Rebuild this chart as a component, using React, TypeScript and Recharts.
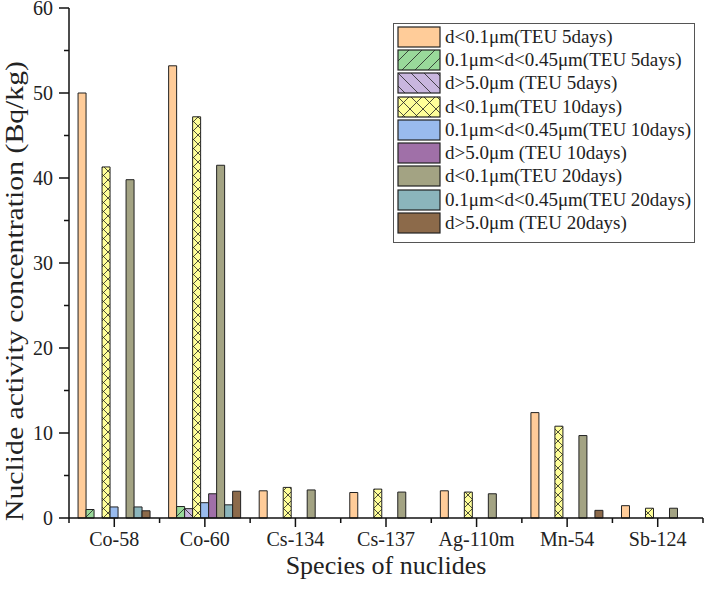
import React from 'react';
import { BarChart, Bar, XAxis, YAxis, Legend } from 'recharts';

const categories = ['Co-58', 'Co-60', 'Cs-134', 'Cs-137', 'Ag-110m', 'Mn-54', 'Sb-124'];

const small5 = [50.0, 53.2, 3.2, 3.0, 3.2, 12.4, 1.45];
const mid5 = [1.0, 1.35, 0, 0, 0, 0, 0];
const large5 = [0, 1.1, 0, 0, 0, 0, 0];
const small10 = [41.3, 47.2, 3.6, 3.4, 3.05, 10.8, 1.15];
const mid10 = [1.3, 1.8, 0, 0, 0, 0, 0];
const large10 = [0, 2.85, 0, 0, 0, 0, 0];
const small20 = [39.8, 41.5, 3.3, 3.05, 2.85, 9.7, 1.15];
const mid20 = [1.3, 1.55, 0, 0, 0, 0, 0];
const large20 = [0.85, 3.15, 0, 0, 0, 0.9, 0];

const seriesNames = [
  'd<0.1μm(TEU 5days)',
  '0.1μm<d<0.45μm(TEU 5days)',
  'd>5.0μm (TEU 5days)',
  'd<0.1μm(TEU 10days)',
  '0.1μm<d<0.45μm(TEU 10days)',
  'd>5.0μm (TEU 10days)',
  'd<0.1μm(TEU 20days)',
  '0.1μm<d<0.45μm(TEU 20days)',
  'd>5.0μm (TEU 20days)',
];
const seriesValues = [small5, mid5, large5, small10, mid10, large10, small20, mid20, large20];

const yTicks = [0, 5, 10, 15, 20, 25, 30, 35, 40, 45, 50, 55, 60];

const colors = ['#FFCC99', '#99D99A', '#C9B6DE', '#FFFF99', '#99BBEE', '#A070A8', '#A3A383', '#8BB5BC', '#8C6A4A'];
const hatch = ['', 'fwd', 'back', 'cross', '', '', '', '', ''];

const data = categories.map((c, i) => {
  const row: any = { name: c };
  seriesValues.forEach((vals, k) => {
    row['s' + k] = vals[i];
  });
  return row;
});

const FONT = '"Liberation Serif", "Times New Roman", serif';

function patternDefs(prefix: string, size: number) {
  return hatch.map((h, k) => {
    if (!h) return null;
    const s = size;
    return (
      <pattern key={prefix + k} id={prefix + k} patternUnits="userSpaceOnUse" width={s} height={s}>
        <rect x={0} y={0} width={s} height={s} fill={colors[k]} />
        {(h === 'fwd' || h === 'cross') && (
          <g stroke="#222" strokeWidth={0.8}>
            <line x1={0} y1={s} x2={s} y2={0} />
            <line x1={-s / 2} y1={s / 2} x2={s / 2} y2={-s / 2} />
            <line x1={s / 2} y1={s * 1.5} x2={s * 1.5} y2={s / 2} />
          </g>
        )}
        {(h === 'back' || h === 'cross') && (
          <g stroke="#222" strokeWidth={0.8}>
            <line x1={0} y1={0} x2={s} y2={s} />
            <line x1={-s / 2} y1={s / 2} x2={s / 2} y2={s * 1.5} />
            <line x1={s / 2} y1={-s / 2} x2={s * 1.5} y2={s / 2} />
          </g>
        )}
      </pattern>
    );
  });
}

function fillFor(prefix: string, k: number) {
  return hatch[k] ? `url(#${prefix}${k})` : colors[k];
}

const YTick = (props: any) => {
  const { x, y, payload } = props;
  const major = payload.value % 10 === 0;
  return (
    <g>
      <line x1={x - (major ? 10 : 5)} y1={y} x2={x} y2={y} stroke="#111" strokeWidth={1.5} />
      {major && (
        <text x={x - 16} y={y + 7} textAnchor="end" fontFamily={FONT} fontSize={20} fill="#222">
          {payload.value}
        </text>
      )}
    </g>
  );
};

const XTick = (props: any) => {
  const { x, y, payload, index, width } = props;
  const half = payload.offset ? payload.offset : width / categories.length / 2;
  const last = index === categories.length - 1;
  return (
    <g>
      <line x1={x} y1={y} x2={x} y2={y + 9} stroke="#111" strokeWidth={1.5} />
      <line x1={x - half} y1={y} x2={x - half} y2={y + 5} stroke="#111" strokeWidth={1.5} />
      {last && <line x1={x + half} y1={y} x2={x + half} y2={y + 5} stroke="#111" strokeWidth={1.5} />}
      <text x={x} y={y + 28} textAnchor="middle" fontFamily={FONT} fontSize={20} fill="#222">
        {payload.value}
      </text>
    </g>
  );
};

const XTitle = () => (
  <text x={386} y={574} textAnchor="middle" fontFamily={FONT} fontSize={26} fill="#222">
    Species of nuclides
  </text>
);

const YTitle = () => (
  <text
    x={14}
    y={291}
    transform="rotate(-90 14 291)"
    textAnchor="middle"
    dominantBaseline="central"
    fontFamily={FONT}
    fontSize={26}
    fill="#222"
    textLength={460}
    lengthAdjust="spacingAndGlyphs"
  >
    Nuclide activity concentration (Bq/kg)
  </text>
);

const LegendBox = () => (
  <div
    style={{
      border: '1px solid #555',
      background: '#fff',
      width: 300,
      height: 217,
      fontFamily: FONT,
      fontSize: 19,
      color: '#222',
      paddingTop: 1,
      boxSizing: 'content-box',
    }}
  >
    {seriesNames.map((n, k) => (
      <div key={k} style={{ display: 'flex', alignItems: 'center', height: 23.3, whiteSpace: 'nowrap' }}>
        <svg width={46} height={22} style={{ marginLeft: 3, flex: 'none' }}>
          <rect x={1} y={1} width={42} height={20} fill={fillFor('lg', k)} stroke="#222" strokeWidth={1.2} />
        </svg>
        <span style={{ marginLeft: 2, lineHeight: '22px' }}>{n}</span>
      </div>
    ))}
  </div>
);

export default function App() {
  return (
    <div style={{ position: 'absolute', left: 0, top: 0, width: 706, height: 600, background: '#fff' }}>
      <BarChart
        width={706}
        height={600}
        data={data}
        margin={{ top: 8, right: 3, bottom: 0, left: 0 }}
        barCategoryGap="10%"
        barGap={0}
      >
        <defs>
          {patternDefs('bp', 9)}
          {patternDefs('lg', 13)}
        </defs>
        <XAxis
          dataKey="name"
          height={82}
          axisLine={{ stroke: '#111', strokeWidth: 1.5 }}
          tickLine={false}
          tickSize={0}
          tickMargin={0}
          interval={0}
          tick={<XTick />}
          label={() => <XTitle />}
        />
        <YAxis
          width={69}
          domain={[0, 60]}
          ticks={yTicks}
          interval={0}
          axisLine={{ stroke: '#111', strokeWidth: 1.5 }}
          tickLine={false}
          tickSize={0}
          tickMargin={0}
          tick={<YTick />}
          label={() => <YTitle />}
        />
        <Legend
          layout="vertical"
          align="center"
          verticalAlign="middle"
          content={<LegendBox />}
          wrapperStyle={{ position: 'absolute', left: 393, top: 23, width: 302, height: 219 }}
        />
        {seriesNames.map((n, k) => (
          <Bar
            key={k}
            dataKey={'s' + k}
            name={n}
            fill={fillFor('bp', k)}
            stroke="#222"
            strokeWidth={1}
            isAnimationActive={false}
          />
        ))}
      </BarChart>
    </div>
  );
}
